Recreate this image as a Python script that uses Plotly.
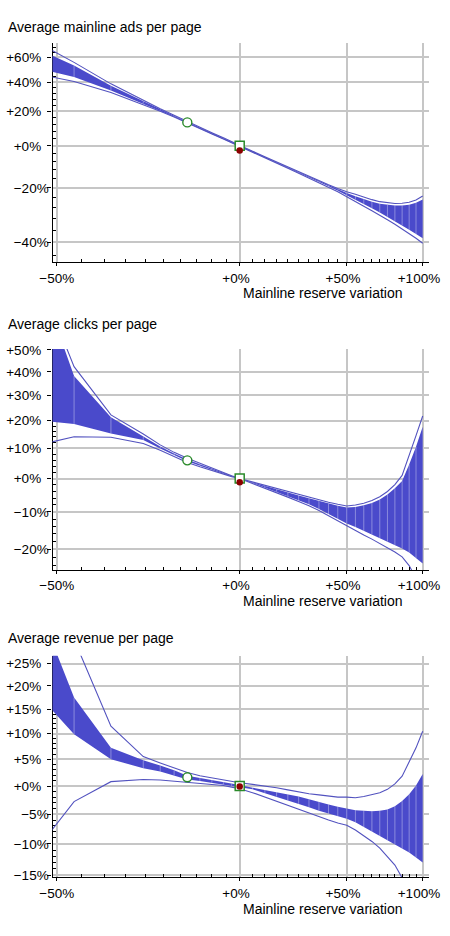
import plotly.graph_objects as go

# ---------------- data (percent variations) ----------------
x_pct = [-51, -46.6, -38.6, -30.6, -26, -22, -18, -14, -10, -6, -3, 0,
         5, 10, 15, 20, 25, 30, 35, 40, 45, 50, 55, 60, 65, 70, 75, 80, 85, 90, 95, 100]

titles = ["Average mainline ads per page", "Average clicks per page", "Average revenue per page"]
x_title = "Mainline reserve variation"

# Average mainline ads per page
ads_fill_hi = [61.6, 53.0, 37.5, 26.5, 21.3, 17.3, 13.5, 10.2, 7.0, 4.2, 2.0, 0.1,
               -2.9, -5.7, -8.3, -10.7, -13.0, -15.1, -17.0, -18.8, -20.6, -22.1, -23.4, -24.6,
               -25.6, -26.4, -26.9, -27.1, -27.1, -26.8, -26.0, -24.7]
ads_fill_lo = [48.0, 44.0, 34.0, 25.0, 20.4, 16.6, 12.9, 9.6, 6.6, 3.8, 1.8, -0.1,
               -3.1, -5.9, -8.5, -11.0, -13.3, -15.4, -17.4, -19.3, -21.2, -23.0, -24.8, -26.5,
               -28.1, -29.7, -31.3, -32.9, -34.4, -35.9, -37.3, -38.7]
ads_outer_hi = [66.0, 55.5, 38.8, 27.0, 21.6, 17.6, 13.7, 10.4, 7.2, 4.3, 2.1, 0.2,
                -2.8, -5.6, -8.2, -10.6, -12.9, -15.0, -16.9, -18.6, -20.2, -21.6, -22.6, -23.8,
                -24.8, -25.6, -26.1, -26.3, -26.2, -25.8, -24.9, -23.3]
ads_outer_lo = [44.0, 40.5, 32.6, 24.4, 20.1, 16.4, 12.7, 9.4, 6.4, 3.7, 1.7, -0.2,
                -3.2, -6.0, -8.7, -11.2, -13.5, -15.7, -17.7, -19.6, -21.6, -23.6, -25.7, -27.4,
                -29.1, -30.7, -32.4, -34.0, -35.6, -37.1, -38.7, -40.3]

# Average clicks per page
clk_fill_hi = [69.0, 38.2, 21.3, 14.1, 10.6, 8.2, 6.2, 4.6, 3.1, 1.8, 0.9, 0.0,
               -1.2, -2.3, -3.3, -4.3, -5.2, -6.0, -6.8, -7.6, -8.2, -8.7, -8.6, -8.1,
               -7.4, -6.4, -4.9, -3.0, -0.8, 4.5, 10.5, 17.7]
clk_fill_lo = [19.6, 18.8, 15.3, 12.9, 9.9, 7.6, 5.6, 4.1, 2.7, 1.5, 0.7, 0.0,
               -1.4, -2.8, -4.1, -5.4, -6.6, -7.8, -9.2, -10.6, -12.0, -13.2, -14.2, -15.2,
               -16.2, -17.2, -18.0, -18.9, -19.8, -20.8, -22.2, -23.5]
clk_outer_hi = [70.0, 42.3, 22.2, 15.1, 11.2, 8.6, 6.6, 4.9, 3.3, 1.9, 0.9, 0.0,
                -1.1, -2.2, -3.2, -4.1, -5.0, -5.8, -6.5, -7.2, -7.8, -8.3, -8.0, -7.5,
                -6.7, -5.6, -4.0, -1.9, 1.0, 8.0, 14.5, 21.8]
clk_outer_lo = [12.2, 14.1, 13.9, 11.7, 9.3, 7.2, 5.2, 3.8, 2.5, 1.4, 0.6, 0.0,
                -1.5, -3.0, -4.4, -5.7, -7.0, -8.2, -9.6, -11.1, -12.6, -13.9, -15.1, -16.3,
                -17.4, -18.5, -19.6, -20.7, -21.9, -24.0, -27.0, -30.0]

# Average revenue per page
rev_fill_hi = [30.5, 17.5, 7.2, 4.8, 3.8, 2.9, 1.9, 1.5, 1.1, 0.7, 0.4, 0.2,
               -0.3, -0.7, -1.1, -1.5, -1.9, -2.4, -2.8, -3.3, -3.7, -4.0, -4.3, -4.4,
               -4.5, -4.4, -4.2, -3.6, -2.7, -1.5, 0.1, 2.2]
rev_fill_lo = [15.0, 9.9, 5.0, 3.3, 2.7, 2.0, 1.2, 0.9, 0.6, 0.3, 0.0, -0.2,
               -0.6, -1.3, -1.9, -2.6, -3.2, -3.8, -4.4, -4.9, -5.4, -5.8, -6.4, -7.2,
               -8.0, -8.7, -9.4, -10.1, -10.8, -11.4, -12.2, -13.0]
rev_outer_hi = [43.4, 30.6, 11.5, 5.5, 4.3, 3.3, 2.5, 1.9, 1.5, 1.1, 0.8, 0.6,
                0.3, 0.0, -0.3, -0.7, -1.1, -1.4, -1.6, -1.8, -2.0, -2.0, -2.1, -1.9,
                -1.6, -1.2, -0.6, 0.4, 1.8, 4.5, 7.2, 10.5]
rev_outer_lo = [-7.8, -2.8, 0.8, 1.2, 1.1, 0.9, 0.7, 0.5, 0.3, 0.1, -0.2, -0.5,
                -1.2, -2.0, -2.8, -3.5, -4.2, -4.9, -5.5, -6.0, -6.5, -6.9, -7.7, -8.6,
                -9.6, -10.7, -12.0, -13.4, -15.4, -17.5, -19.7, -22.0]

# reference points
circle_x = -18
circle_y = [13.2, 5.9, 1.6]
square_x = 0
square_y = [0, 0, 0]
dot_x = 0
dot_y = [-2.4, -1.2, -0.1]

# ticks
x_ticks = [-50, 0, 50, 100]
x_minor = [-45, -40, -35, -30, -25, -20, -15, -10, -5, 5, 10, 15, 20, 25, 30, 35, 40, 45,
           55, 60, 65, 70, 75, 80, 85, 90, 95]
y_ticks = [[-40, -20, 0, 20, 40, 60],
           [-20, -10, 0, 10, 20, 30, 40, 50],
           [-15, -10, -5, 0, 5, 10, 15, 20, 25]]
y_minor = [[-44, -36, -32, -28, -24, -16, -12, -8, -4, 4, 8, 12, 16, 24, 28, 32, 36, 44, 48, 52, 56, 64, 68],
           [-24, -22, -18, -16, -14, -12, -8, -6, -4, -2, 2, 4, 6, 8, 12, 14, 16, 18, 22, 24, 26, 28,
            32, 34, 36, 38, 42, 44, 46, 48],
           [-14, -13, -12, -11, -9, -8, -7, -6, -4, -3, -2, -1, 1, 2, 3, 4, 6, 7, 8, 9, 11, 12, 13, 14,
            16, 17, 18, 19, 21, 22, 23, 24, 26]]

panels = [
    (ads_fill_lo, ads_fill_hi, ads_outer_lo, ads_outer_hi),
    (clk_fill_lo, clk_fill_hi, clk_outer_lo, clk_outer_hi),
    (rev_fill_lo, rev_fill_hi, rev_outer_lo, rev_outer_hi),
]

# ---------------- layout geometry (pixels) ----------------
W, H = 450, 936
x_left_px, x_right_px = 52.5, 429.3
panel_px = [(42.7, 262.3), (349.0, 570.0), (655.7, 877.3)]
y_ranges = [[-0.2678, 0.2370], [-0.1253, 0.1774], [-0.0722, 0.1031]]
x_range = [-0.30795, 0.3119]
title_center_px = [26.8, 324.1, 637.8]
xtitle_center_px = [292.8, 601.0, 909.4]

FILL = "#4a4acb"
LINE = "#5252bf"
GRID = "#c6c6c6"
GREEN = "#2a8a2a"
DARKRED = "#8b0000"
FONT = "Liberation Sans, Arial, Helvetica, sans-serif"


def m(p):
    return [1 + v / 100.0 for v in p]


def lab(v):
    if v < 0:
        return "\u2212%d%%" % (-v)
    return "+%d%%\u00a0\u00a0" % v


fig = go.Figure()
layout = dict(
    width=W, height=H, margin=dict(l=0, r=0, t=0, b=0, autoexpand=False),
    paper_bgcolor="white", plot_bgcolor="white", showlegend=False,
    font=dict(family=FONT, size=13.5, color="black"),
    annotations=[],
)

xm = m(x_pct)
for i, (lo, hi, olo, ohi) in enumerate(panels):
    sfx = "" if i == 0 else str(i + 1)
    xa, ya = "x" + sfx, "y" + sfx
    # filled inner band
    fig.add_trace(go.Scatter(x=xm, y=m(lo), xaxis=xa, yaxis=ya, mode="lines",
                             line=dict(width=0, color=FILL), hoverinfo="skip"))
    fig.add_trace(go.Scatter(x=xm, y=m(hi), xaxis=xa, yaxis=ya, mode="lines",
                             line=dict(width=0, color=FILL), fill="tonexty",
                             fillcolor=FILL, hoverinfo="skip"))
    # faint vertical seams at the sample points
    vx, vy = [], []
    for xv, a, b in zip(xm[1:-1], m(lo)[1:-1], m(hi)[1:-1]):
        vx += [xv, xv, None]
        vy += [a, b, None]
    fig.add_trace(go.Scatter(x=vx, y=vy, xaxis=xa, yaxis=ya, mode="lines",
                             line=dict(width=0.8, color="rgba(255,255,255,0.45)"),
                             hoverinfo="skip"))
    # outer envelope lines
    for curve in (olo, ohi):
        fig.add_trace(go.Scatter(x=xm, y=m(curve), xaxis=xa, yaxis=ya, mode="lines",
                                 line=dict(width=1.1, color=LINE), hoverinfo="skip"))
    # markers
    fig.add_trace(go.Scatter(x=m([circle_x]), y=m([circle_y[i]]), xaxis=xa, yaxis=ya,
                             mode="markers",
                             marker=dict(symbol="circle", size=9, color="white",
                                         line=dict(color=GREEN, width=1.4))))
    fig.add_trace(go.Scatter(x=m([square_x]), y=m([square_y[i]]), xaxis=xa, yaxis=ya,
                             mode="markers",
                             marker=dict(symbol="square", size=9, color="white",
                                         line=dict(color=GREEN, width=1.5))))
    fig.add_trace(go.Scatter(x=m([dot_x]), y=m([dot_y[i]]), xaxis=xa, yaxis=ya,
                             mode="markers",
                             marker=dict(symbol="circle", size=6.5, color=DARKRED,
                                         line=dict(width=0))))

    top, bot = panel_px[i]
    ydom = [1 - bot / H, 1 - top / H]
    xdom = [x_left_px / W, x_right_px / W]
    layout["xaxis" + sfx] = dict(
        type="log", range=x_range, domain=xdom, anchor=ya, automargin=False,
        tickmode="array", tickvals=m(x_ticks), ticktext=[lab(v) for v in x_ticks],
        showgrid=True, gridcolor=GRID, gridwidth=1.5,
        showline=True, linecolor="black", linewidth=1.3,
        ticks="outside", ticklen=3, tickwidth=1, tickcolor="black",
        minor=dict(tickmode="array", tickvals=m(x_minor), ticks="inside", ticklen=3,
                   tickwidth=1, tickcolor="black", showgrid=False),
        zeroline=False, fixedrange=True, tickfont=dict(size=13.5),
    )
    layout["yaxis" + sfx] = dict(
        type="log", range=y_ranges[i], domain=ydom, anchor=xa, automargin=False,
        tickmode="array", tickvals=m(y_ticks[i]), ticktext=[lab(v) for v in y_ticks[i]],
        showgrid=True, gridcolor=GRID, gridwidth=1.5,
        showline=True, linecolor="black", linewidth=1.3,
        ticks="outside", ticklen=4, tickwidth=1, tickcolor="black",
        minor=dict(tickmode="array", tickvals=m(y_minor[i]), ticks="inside", ticklen=3,
                   tickwidth=1, tickcolor="black", showgrid=False),
        zeroline=False, fixedrange=True, layer="below traces", tickfont=dict(size=13.5),
        ticklabelstandoff=-4,
    )
    layout["annotations"].append(dict(
        text=titles[i], xref="paper", yref="paper", x=6 / W, y=1 - title_center_px[i] / H,
        xanchor="left", yanchor="middle", showarrow=False, font=dict(size=14)))
    layout["annotations"].append(dict(
        text=x_title, xref="paper", yref="paper", x=322.5 / W, y=1 - xtitle_center_px[i] / H,
        xanchor="center", yanchor="middle", showarrow=False, font=dict(size=14)))

fig.update_layout(**layout)
fig.write_html("out.html")
